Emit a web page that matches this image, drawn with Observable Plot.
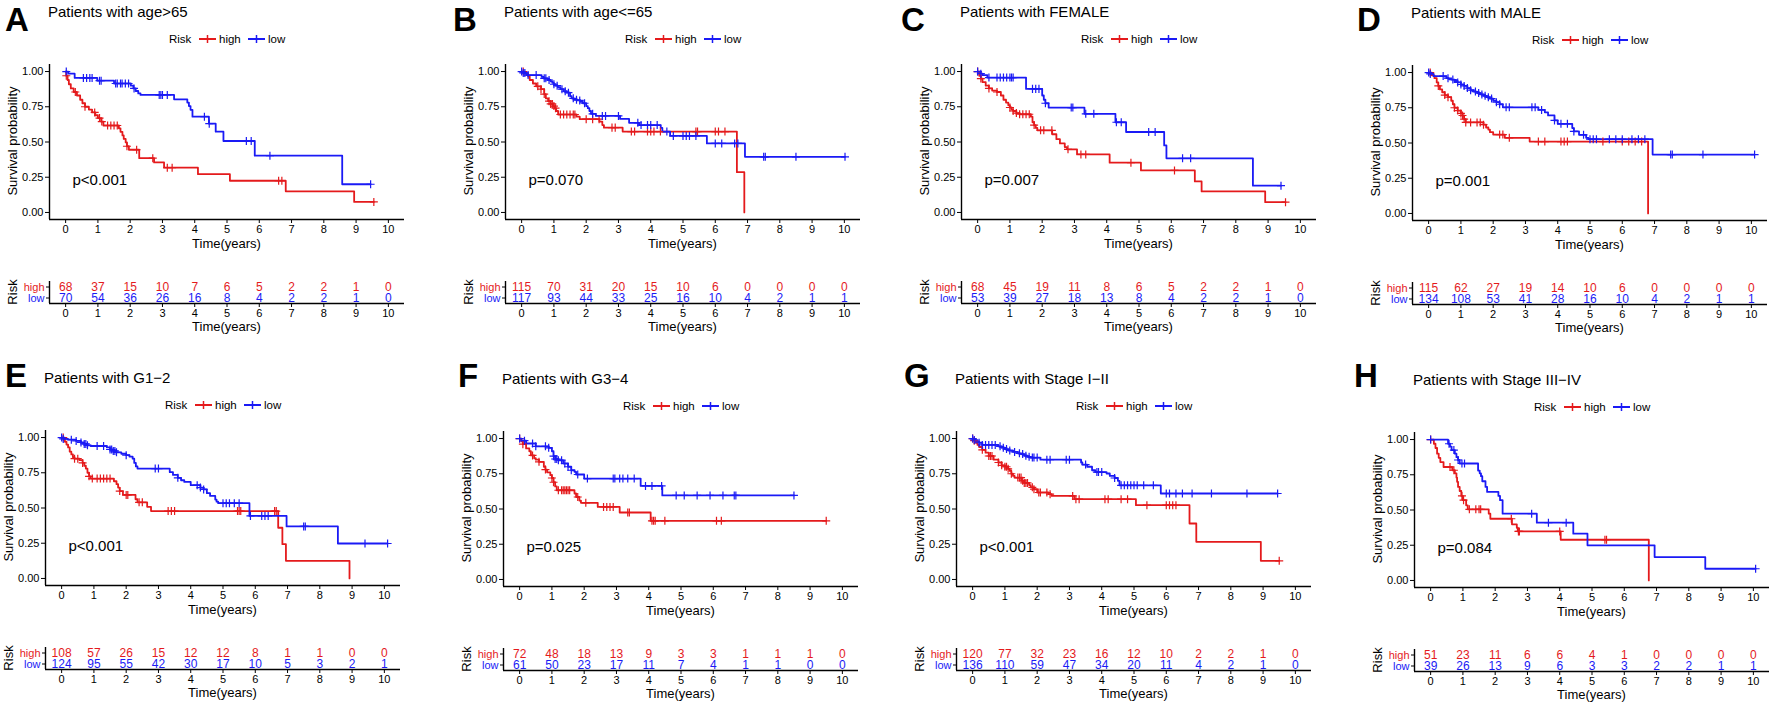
<!DOCTYPE html>
<html><head><meta charset="utf-8">
<script src="https://cdn.jsdelivr.net/npm/d3@7"></script>
<script src="https://cdn.jsdelivr.net/npm/@observablehq/plot@0.6"></script>
<style>
html,body{margin:0;padding:0;background:#fff;}
#root{position:relative;width:1772px;height:706px;overflow:hidden;font-family:"Liberation Sans",Arial,sans-serif;background:#fff;}
#root svg{position:absolute;overflow:visible;max-width:none;}
</style></head><body><div id="root"></div>
<script>
// ---------- data ----------
const timeTicks = [0,1,2,3,4,5,6,7,8,9,10];
const survTicks = [0,0.25,0.5,0.75,1];
const groups = ["high","low"];
const panelLetters = ["A","B","C","D","E","F","G","H"];
const panelTitles = ["Patients with age>65","Patients with age<=65","Patients with FEMALE","Patients with MALE",
  "Patients with G1\u22122","Patients with G3\u22124","Patients with Stage I\u2212II","Patients with Stage III\u2212IV"];
const pValues = ["p<0.001","p=0.070","p=0.007","p=0.001","p<0.001","p=0.025","p<0.001","p=0.084"];

// A: age>65
const aHighSteps = [[0,1],[0.02,0.97],[0.06,0.94],[0.1,0.91],[0.16,0.88],[0.25,0.855],[0.35,0.83],[0.45,0.8],[0.52,0.775],[0.6,0.75],[0.72,0.73],[0.82,0.71],[0.92,0.69],[1.0,0.67],[1.1,0.645],[1.17,0.617],[1.65,0.597],[1.7,0.572],[1.76,0.547],[1.8,0.522],[1.86,0.497],[1.9,0.47],[1.96,0.445],[2.28,0.385],[2.74,0.355],[3.05,0.318],[4.1,0.272],[5.09,0.225],[6.82,0.15],[8.94,0.075]];
const aHighCens = [0.02,0.3,0.6,0.9,1.05,1.12,1.3,1.4,1.5,1.6,1.9,2.2,2.7,3.15,3.3,6.6,6.7,9.55];
const aLowSteps = [[0,1],[0.08,0.985],[0.28,0.955],[0.98,0.935],[1.5,0.915],[2.02,0.9],[2.1,0.88],[2.17,0.862],[2.25,0.845],[2.32,0.834],[3.36,0.803],[3.77,0.78],[3.82,0.755],[3.87,0.728],[3.93,0.68],[4.44,0.63],[4.65,0.573],[4.89,0.507],[5.86,0.403],[8.57,0.2]];
const aLowCens = [0.02,0.55,0.65,0.75,0.82,1.05,1.1,1.55,1.6,1.7,1.75,1.85,1.95,2.12,2.9,2.95,3.0,3.15,4.3,4.45,5.6,5.75,6.33,9.45];
const aHighRisk = [68,37,15,10,7,6,5,2,2,1,0];
const aLowRisk = [70,54,36,26,16,8,4,2,2,1,0];

// B: age<=65
const bHighSteps = [[0,1],[0.1,0.985],[0.2,0.965],[0.25,0.94],[0.35,0.915],[0.45,0.895],[0.6,0.875],[0.7,0.84],[0.75,0.81],[0.82,0.79],[0.9,0.77],[0.97,0.755],[1.02,0.74],[1.07,0.72],[1.13,0.695],[1.7,0.68],[1.8,0.662],[2.41,0.645],[2.5,0.62],[2.55,0.602],[3.13,0.574],[6.67,0.286],[6.9,0]];
const bHighCens = [0.05,0.5,0.6,0.7,0.85,0.9,0.95,1.0,1.05,1.2,1.3,1.4,1.5,1.6,1.65,2.0,2.2,2.4,2.8,2.9,3.4,3.5,3.9,4.0,4.1,4.3,5.4,5.45,6.0,6.1,6.3];
const bLowSteps = [[0,1],[0.05,0.99],[0.15,0.975],[0.62,0.962],[0.68,0.952],[0.8,0.94],[0.9,0.93],[0.95,0.92],[1.0,0.91],[1.05,0.9],[1.12,0.89],[1.2,0.875],[1.3,0.86],[1.4,0.85],[1.5,0.825],[1.55,0.81],[1.62,0.8],[1.72,0.795],[1.82,0.785],[1.9,0.775],[2.0,0.755],[2.05,0.74],[2.1,0.72],[2.15,0.7],[2.3,0.685],[3.05,0.664],[3.33,0.636],[3.64,0.62],[4.31,0.6],[4.36,0.574],[4.6,0.543],[5.74,0.49],[6.92,0.395]];
const bLowCens = [0.0,0.05,0.1,0.2,0.45,0.7,0.75,0.85,1.0,1.1,1.25,1.35,1.45,1.6,1.7,1.8,1.95,2.2,2.5,2.6,3.0,3.6,3.7,3.9,4.0,4.2,4.5,4.7,5.0,5.1,5.2,5.4,6.0,6.2,6.6,6.7,7.5,7.55,8.5,10.02];
const bHighRisk = [115,70,31,20,15,10,6,0,0,0,0];
const bLowRisk = [117,93,44,33,25,16,10,4,2,1,1];

// C: FEMALE
const cHighSteps = [[0,1],[0.05,0.97],[0.1,0.95],[0.15,0.925],[0.25,0.9],[0.35,0.88],[0.45,0.865],[0.6,0.855],[0.72,0.83],[0.8,0.8],[0.88,0.78],[0.95,0.76],[1.0,0.745],[1.05,0.73],[1.1,0.72],[1.2,0.705],[1.3,0.697],[1.65,0.68],[1.7,0.64],[1.75,0.62],[1.8,0.6],[1.85,0.583],[2.31,0.555],[2.44,0.52],[2.55,0.49],[2.7,0.464],[2.77,0.448],[3.08,0.412],[4.09,0.353],[5.06,0.298],[6.73,0.22],[6.94,0.149],[8.91,0.073]];
const cHighCens = [0.0,0.1,0.35,0.6,1.0,1.1,1.2,1.3,1.4,1.5,1.6,1.75,1.95,2.05,2.3,2.8,3.2,3.35,4.75,6.1,9.54];
const cLowSteps = [[0,1],[0.1,0.985],[0.15,0.975],[0.3,0.957],[1.5,0.877],[2.0,0.83],[2.05,0.8],[2.1,0.775],[2.2,0.744],[3.31,0.7],[4.27,0.64],[4.6,0.571],[5.78,0.476],[5.85,0.384],[8.53,0.19]];
const cLowCens = [0.0,0.1,0.35,0.6,0.7,0.8,0.9,1.0,1.05,1.1,1.7,1.8,1.9,2.1,2.9,2.95,3.35,3.6,4.3,4.45,5.3,5.5,6.35,6.6,9.4];
const cHighRisk = [68,45,19,11,8,6,5,2,2,1,0];
const cLowRisk = [53,39,27,18,13,8,4,2,2,1,0];

// D: MALE
const dHighSteps = [[0,1],[0.1,0.98],[0.18,0.96],[0.25,0.93],[0.3,0.905],[0.35,0.88],[0.42,0.86],[0.5,0.84],[0.6,0.825],[0.7,0.8],[0.75,0.775],[0.8,0.75],[0.9,0.73],[1.0,0.71],[1.05,0.695],[1.1,0.67],[1.15,0.646],[1.7,0.63],[1.78,0.61],[1.85,0.595],[1.9,0.577],[2.0,0.56],[2.36,0.537],[3.13,0.51],[6.8,0]];
const dHighCens = [0.05,0.3,0.5,0.6,0.8,0.9,1.0,1.05,1.1,1.15,1.3,1.5,1.6,1.7,2.2,2.3,2.5,3.4,3.6,4.1,4.2,4.3,5.4,6.0,6.2,6.4,6.6];
const dLowSteps = [[0,1],[0.05,0.99],[0.15,0.975],[0.55,0.96],[0.62,0.955],[0.7,0.95],[0.8,0.94],[0.9,0.93],[1.0,0.915],[1.1,0.905],[1.2,0.89],[1.3,0.875],[1.4,0.865],[1.5,0.855],[1.6,0.845],[1.7,0.835],[1.8,0.825],[1.9,0.815],[2.0,0.8],[2.1,0.79],[2.2,0.775],[2.3,0.753],[3.4,0.735],[3.6,0.718],[3.7,0.696],[3.9,0.66],[4.0,0.636],[4.45,0.606],[4.5,0.582],[4.66,0.558],[4.88,0.537],[4.95,0.527],[6.94,0.418]];
const dLowCens = [0.0,0.05,0.45,0.6,0.75,0.9,1.0,1.1,1.2,1.3,1.45,1.55,1.65,1.75,1.85,1.95,2.1,2.2,2.4,2.5,3.2,3.3,3.5,3.9,4.1,4.3,4.5,4.8,5.0,5.1,5.2,5.6,5.8,6.0,6.3,6.5,6.7,7.5,7.55,8.5,10.1];
const dHighRisk = [115,62,27,19,14,10,6,0,0,0,0];
const dLowRisk = [134,108,53,41,28,16,10,4,2,1,1];

// E: G1-2
const eHighSteps = [[0,1],[0.1,0.97],[0.15,0.95],[0.2,0.93],[0.25,0.9],[0.3,0.88],[0.35,0.86],[0.4,0.85],[0.55,0.84],[0.65,0.82],[0.7,0.8],[0.75,0.78],[0.8,0.75],[0.85,0.725],[0.9,0.709],[1.62,0.69],[1.7,0.669],[1.75,0.645],[1.8,0.62],[1.9,0.593],[2.29,0.562],[2.35,0.54],[2.65,0.508],[2.77,0.478],[6.71,0.36],[6.84,0.243],[6.95,0.125],[8.92,0]];
const eHighCens = [0.05,0.4,0.5,0.65,0.85,0.95,1.1,1.2,1.3,1.4,1.5,1.8,2.0,2.05,2.4,2.5,3.3,3.4,3.5,5.45,5.5,5.55,6.6,6.65];
const eLowSteps = [[0,1],[0.05,0.99],[0.2,0.985],[0.45,0.976],[0.6,0.965],[0.7,0.955],[0.8,0.945],[0.9,0.94],[1.4,0.93],[1.5,0.915],[1.6,0.905],[1.7,0.895],[1.85,0.885],[2.0,0.875],[2.1,0.865],[2.2,0.85],[2.25,0.82],[2.3,0.795],[2.35,0.78],[3.35,0.754],[3.45,0.735],[3.6,0.714],[3.7,0.697],[3.8,0.685],[4.0,0.662],[4.3,0.645],[4.4,0.632],[4.5,0.605],[4.6,0.586],[4.76,0.56],[4.8,0.545],[4.85,0.534],[5.82,0.444],[6.97,0.369],[8.56,0.248]];
const eLowCens = [0.0,0.05,0.3,0.45,0.6,0.7,0.75,0.8,1.1,1.3,1.5,1.55,1.6,1.65,1.7,2.0,2.9,3.0,3.6,4.2,4.3,4.4,5.0,5.1,5.2,5.35,5.5,5.85,6.2,6.3,6.4,7.5,7.55,9.4,10.1];
const eHighRisk = [108,57,26,15,12,12,8,1,1,0,0];
const eLowRisk = [124,95,55,42,30,17,10,5,3,2,1];

// F: G3-4
const fHighSteps = [[0,1],[0.05,0.98],[0.1,0.96],[0.2,0.93],[0.3,0.91],[0.35,0.88],[0.45,0.86],[0.5,0.85],[0.6,0.835],[0.75,0.8],[0.8,0.78],[0.85,0.76],[0.95,0.74],[1.0,0.72],[1.05,0.69],[1.1,0.66],[1.15,0.633],[1.7,0.61],[1.75,0.585],[1.85,0.56],[1.9,0.544],[2.42,0.515],[3.1,0.475],[4.06,0.416]];
const fHighCens = [0.0,0.1,0.4,0.6,0.8,1.0,1.05,1.2,1.3,1.35,1.4,1.45,1.5,1.55,1.8,2.05,2.6,2.7,2.8,2.9,3.35,3.4,4.1,4.15,4.2,4.5,6.1,6.25,9.5];
const fLowSteps = [[0,1],[0.05,0.985],[0.2,0.965],[0.5,0.945],[0.9,0.934],[1.0,0.91],[1.05,0.875],[1.1,0.855],[1.2,0.846],[1.35,0.823],[1.5,0.8],[1.6,0.775],[1.7,0.764],[1.75,0.745],[2.0,0.716],[3.75,0.664],[4.42,0.596]];
const fLowCens = [0.0,0.15,0.4,0.5,0.8,0.9,1.05,1.1,1.15,1.2,1.3,1.4,1.5,1.6,1.8,2.1,2.9,2.95,3.1,3.2,3.35,3.55,3.9,4.1,4.4,4.85,5.1,5.5,5.9,6.3,6.65,6.7,8.5];
const fHighRisk = [72,48,18,13,9,3,3,1,1,1,0];
const fLowRisk = [61,50,23,17,11,7,4,1,1,0,0];

// G: Stage I-II
const gHighSteps = [[0,1],[0.05,0.985],[0.1,0.97],[0.15,0.955],[0.2,0.94],[0.3,0.92],[0.4,0.9],[0.5,0.876],[0.65,0.85],[0.8,0.83],[0.9,0.81],[1.0,0.8],[1.1,0.785],[1.15,0.77],[1.2,0.75],[1.25,0.735],[1.3,0.723],[1.51,0.7],[1.6,0.685],[1.75,0.67],[1.8,0.654],[1.9,0.64],[2.0,0.617],[2.35,0.605],[2.45,0.593],[3.15,0.57],[5.06,0.527],[6.72,0.397],[6.93,0.267],[8.93,0.132]];
const gHighCens = [0.0,0.05,0.3,0.5,0.55,0.6,0.8,0.9,1.0,1.05,1.1,1.2,1.4,1.45,1.5,1.55,1.6,1.65,1.7,1.85,1.9,2.05,2.1,2.3,2.4,3.1,3.2,3.3,4.1,4.2,4.6,4.8,5.4,6.0,6.1,6.2,6.3,9.5];
const gLowSteps = [[0,1],[0.05,0.99],[0.1,0.98],[0.2,0.97],[0.3,0.955],[0.79,0.945],[0.9,0.935],[1.0,0.925],[1.1,0.915],[1.25,0.905],[1.4,0.895],[1.5,0.89],[1.6,0.878],[1.7,0.87],[1.8,0.865],[2.1,0.85],[3.36,0.83],[3.4,0.815],[3.55,0.8],[3.7,0.775],[3.8,0.762],[4.15,0.752],[4.25,0.735],[4.4,0.72],[4.5,0.7],[4.55,0.668],[5.83,0.61]];
const gLowCens = [0.0,0.05,0.2,0.3,0.4,0.5,0.6,0.7,0.85,0.95,1.05,1.15,1.3,1.45,1.55,1.65,1.75,1.85,1.9,2.0,2.3,2.4,2.9,3.0,3.5,3.85,3.9,4.0,4.4,4.6,4.7,4.8,4.9,5.0,5.1,5.3,5.6,6.0,6.1,6.3,6.5,6.8,7.4,8.5,9.45];
const gHighRisk = [120,77,32,23,16,12,10,2,2,1,0];
const gLowRisk = [136,110,59,47,34,20,11,4,2,1,0];

// H: Stage III-IV
const hHighSteps = [[0,1],[0.1,0.97],[0.15,0.94],[0.2,0.9],[0.25,0.87],[0.3,0.84],[0.4,0.805],[0.67,0.782],[0.75,0.76],[0.8,0.73],[0.82,0.7],[0.85,0.664],[0.9,0.635],[0.95,0.6],[1.0,0.57],[1.1,0.533],[1.15,0.505],[1.8,0.474],[1.85,0.438],[2.52,0.398],[2.67,0.374],[2.7,0.348],[4.03,0.289],[6.76,0]];
const hHighCens = [0.0,0.6,0.72,0.97,1.02,1.2,1.4,1.5,1.55,2.5,2.72,2.75,4.0,5.4,5.45];
const hLowSteps = [[0,1],[0.54,0.97],[0.6,0.95],[0.65,0.925],[0.75,0.9],[0.8,0.875],[0.85,0.855],[0.9,0.83],[1.47,0.78],[1.52,0.76],[1.56,0.74],[1.6,0.704],[1.7,0.664],[1.75,0.628],[2.1,0.6],[2.15,0.57],[2.23,0.474],[3.29,0.41],[4.42,0.332],[4.86,0.249],[6.94,0.166],[8.51,0.083]];
const hLowCens = [0.0,0.57,0.72,0.85,0.97,1.05,3.13,3.65,4.2,10.07];
const hHighRisk = [51,23,11,6,6,4,1,0,0,0,0];
const hLowRisk = [39,26,13,9,6,3,3,2,2,1,1];

// ---------- assembly ----------
const RED = "#e41a1c", BLUE = "#1a1af5";
const FONT = "Liberation Sans, Arial, sans-serif";
const xDomain = [-0.5, 10.5];
const yDomain = [-0.05, 1.05];
const riskDomain = [0, 2];           // rows: high -> 1.5, low -> 0.5
const riskRow = g => g === groups[0] ? 1.5 : 0.5;
const panels = [
  {hs:aHighSteps, hc:aHighCens, ls:aLowSteps, lc:aLowCens, hr:aHighRisk, lr:aLowRisk},
  {hs:bHighSteps, hc:bHighCens, ls:bLowSteps, lc:bLowCens, hr:bHighRisk, lr:bLowRisk},
  {hs:cHighSteps, hc:cHighCens, ls:cLowSteps, lc:cLowCens, hr:cHighRisk, lr:cLowRisk},
  {hs:dHighSteps, hc:dHighCens, ls:dLowSteps, lc:dLowCens, hr:dHighRisk, lr:dLowRisk},
  {hs:eHighSteps, hc:eHighCens, ls:eLowSteps, lc:eLowCens, hr:eHighRisk, lr:eLowRisk},
  {hs:fHighSteps, hc:fHighCens, ls:fLowSteps, lc:fLowCens, hr:fHighRisk, lr:fLowRisk},
  {hs:gHighSteps, hc:gHighCens, ls:gLowSteps, lc:gLowCens, hr:gHighRisk, lr:gLowRisk},
  {hs:hHighSteps, hc:hHighCens, ls:hLowSteps, lc:hLowCens, hr:hHighRisk, lr:hLowRisk}
];
// page placement (y-axis line x, row top, letter x)
const layout = [
  {ax:49, top:0, lx:5}, {ax:505, top:0, lx:453}, {ax:961, top:0, lx:901}, {ax:1412, top:1, lx:1357},
  {ax:45, top:366, lx:5}, {ax:503, top:367, lx:458}, {ax:956, top:367, lx:904}, {ax:1414, top:368, lx:1354}
];
const ML = 44, PW = 355, MR = 12;

function survAt(steps, t){ let s = 1; for (const [tt, ss] of steps) if (tt <= t) s = ss; return s; }
function lineData(steps, cens){
  const pts = steps.map(([t,s]) => ({t, s}));
  const last = steps[steps.length-1];
  const tEnd = d3.max(cens);
  if (last[1] > 0 && tEnd > last[0]) pts.push({t:tEnd, s:last[1]});
  return pts;
}
function censData(steps, cens){ return cens.map(t => ({t, s: survAt(steps, t)})); }

const root = document.getElementById("root");
const overlay = d3.create("svg").attr("width",1772).attr("height",706)
  .style("left","0px").style("top","0px").style("font-family",FONT);

function legendKey(g, x, y, color){
  g.append("line").attr("x1",x).attr("x2",x+17).attr("y1",y).attr("y2",y).attr("stroke",color).attr("stroke-width",2);
  g.append("line").attr("x1",x+8.5).attr("x2",x+8.5).attr("y1",y-4).attr("y2",y+4).attr("stroke",color).attr("stroke-width",1.5);
}

panels.forEach((p, i) => {
  const L = layout[i];
  const ax = L.ax, top = L.top;
  const g = overlay.append("g");
  g.append("text").attr("x", L.lx).attr("y", (i<4?31:387)).attr("font-size",33).attr("font-weight","bold").attr("fill","#000").text(panelLetters[i]);
  g.append("text").attr("x", ax-1).attr("y", top+17).attr("font-size",15).attr("fill","#000").text(panelTitles[i]);
  const lx = ax+120, ly = top+39;
  g.append("text").attr("x", lx).attr("y", ly+4).attr("font-size",11.5).text("Risk");
  legendKey(g, lx+30, ly, RED);
  g.append("text").attr("x", lx+50).attr("y", ly+4).attr("font-size",11.5).text(groups[0]);
  legendKey(g, lx+79, ly, BLUE);
  g.append("text").attr("x", lx+99).attr("y", ly+4).attr("font-size",11.5).text(groups[1]);
  g.append("text").attr("transform",`translate(${ax-37},${top+141}) rotate(-90)`).attr("text-anchor","middle")
    .attr("dominant-baseline","central").attr("font-size",13).text("Survival probability");
  g.append("text").attr("x", ax+PW/2).attr("y", top+248).attr("text-anchor","middle").attr("font-size",13).text("Time(years)");
  g.append("text").attr("transform",`translate(${ax-37},${top+292}) rotate(-90)`).attr("text-anchor","middle")
    .attr("dominant-baseline","central").attr("font-size",13).text("Risk");
  g.append("text").attr("x", ax+PW/2).attr("y", top+331).attr("text-anchor","middle").attr("font-size",13).text("Time(years)");

  const km = Plot.plot({
    width: ML+PW+MR, height: 10+155+30,
    marginLeft: ML, marginRight: MR, marginTop: 10, marginBottom: 30,
    style: {fontFamily: FONT, fontSize: "11px", color: "#000", background: "transparent", overflow: "visible"},
    x: {domain: xDomain},
    y: {domain: yDomain},
    marks: [
      Plot.axisX({ticks: timeTicks, tickSize: 4, tickPadding: 2, label: null, tickFormat: d => String(d)}),
      Plot.axisY({ticks: survTicks, tickSize: 4, tickPadding: 2, label: null, tickFormat: d3.format(".2f")}),
      Plot.ruleX([xDomain[0]], {stroke: "#000", strokeWidth: 1.4}),
      Plot.ruleY([yDomain[0]], {stroke: "#000", strokeWidth: 1.4}),
      Plot.line(lineData(p.hs, p.hc), {x: "t", y: "s", curve: "step-after", stroke: RED, strokeWidth: 1.8}),
      Plot.line(lineData(p.ls, p.lc), {x: "t", y: "s", curve: "step-after", stroke: BLUE, strokeWidth: 1.8}),
      Plot.dot(censData(p.hs, p.hc), {x: "t", y: "s", symbol: "plus", r: 2.7, stroke: RED, strokeWidth: 1.2}),
      Plot.dot(censData(p.ls, p.lc), {x: "t", y: "s", symbol: "plus", r: 2.7, stroke: BLUE, strokeWidth: 1.2}),
      Plot.text([pValues[i]], {text: d => d, frameAnchor: "bottom-left", dx: 23, dy: -35, textAnchor: "start", fontSize: 15, fill: "#000"})
    ]
  });
  km.style.left = (ax-ML)+"px"; km.style.top = (top+54)+"px";
  root.appendChild(km);

  const hiRows = timeTicks.map((t, k) => ({t, n: p.hr[k]}));
  const loRows = timeTicks.map((t, k) => ({t, n: p.lr[k]}));
  const rt = Plot.plot({
    width: ML+PW+MR, height: 5+22+30,
    marginLeft: ML, marginRight: MR, marginTop: 5, marginBottom: 30,
    style: {fontFamily: FONT, fontSize: "11px", color: "#000", background: "transparent", overflow: "visible"},
    x: {domain: xDomain},
    y: {domain: riskDomain},
    marks: [
      Plot.axisX({ticks: timeTicks, tickSize: 4, tickPadding: 2, label: null, tickFormat: d => String(d)}),
      Plot.axisY({ticks: groups.map(riskRow), tickSize: 3, label: null, tickFormat: () => ""}),
      Plot.ruleX([xDomain[0]], {stroke: "#000", strokeWidth: 1.4}),
      Plot.ruleY([riskDomain[0]], {stroke: "#000", strokeWidth: 1.4}),
      Plot.text([groups[0]], {y: riskRow, text: d => d, frameAnchor: "left", dx: -5, textAnchor: "end", fill: RED, fontSize: 11}),
      Plot.text([groups[1]], {y: riskRow, text: d => d, frameAnchor: "left", dx: -5, textAnchor: "end", fill: BLUE, fontSize: 11}),
      Plot.text(hiRows, {x: "t", y: () => riskRow(groups[0]), text: "n", fill: RED, fontSize: 12}),
      Plot.text(loRows, {x: "t", y: () => riskRow(groups[1]), text: "n", fill: BLUE, fontSize: 12})
    ]
  });
  rt.style.left = (ax-ML)+"px"; rt.style.top = (top+276)+"px";
  root.appendChild(rt);
});
root.appendChild(overlay.node());
</script>
</body></html>
